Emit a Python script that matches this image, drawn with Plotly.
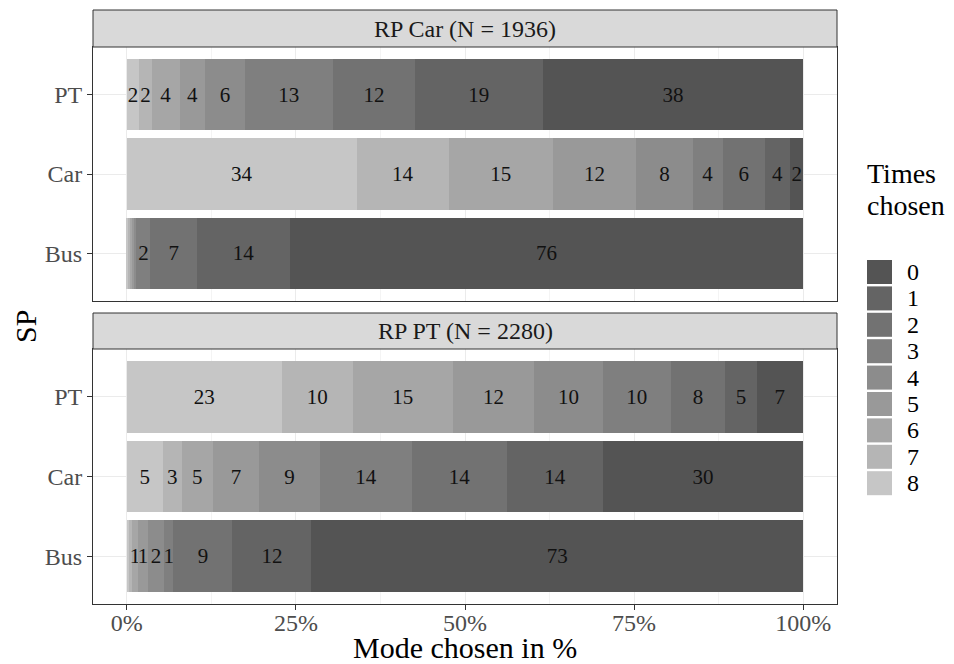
import plotly.graph_objects as go

# ---------------- data ----------------
panels = ["RP Car (N = 1936)", "RP PT (N = 2280)"]
sp_modes = ["Bus", "Car", "PT"]
times_chosen = ["0", "1", "2", "3", "4", "5", "6", "7", "8"]

# percentages per "times chosen" (0..8) for each SP mode
rp_car_pt = [38.5, 18.9, 12.1, 13.1, 5.8, 3.8, 4.1, 1.9, 1.8]
rp_car_car = [1.9, 3.8, 6.2, 4.4, 8.4, 12.3, 15.4, 13.6, 34.0]
rp_car_bus = [75.9, 13.7, 6.9, 2.1, 0.4, 0.3, 0.3, 0.2, 0.2]

rp_pt_pt = [6.9, 4.6, 8.1, 10.0, 10.2, 12.0, 14.8, 10.5, 22.9]
rp_pt_car = [29.6, 14.2, 14.0, 13.7, 8.9, 6.9, 4.6, 2.8, 5.3]
rp_pt_bus = [72.7, 11.7, 8.7, 1.4, 2.4, 1.4, 1.0, 0.4, 0.3]

x_ticks = [0, 25, 50, 75, 100]
x_tick_labels = ["0%", "25%", "50%", "75%", "100%"]

colors = ["#545454", "#646464", "#727272", "#7f7f7f", "#8c8c8c",
          "#999999", "#a6a6a6", "#b5b5b5", "#c6c6c6"]

panel_data = [
    {"Bus": rp_car_bus, "Car": rp_car_car, "PT": rp_car_pt},
    {"Bus": rp_pt_bus, "Car": rp_pt_car, "PT": rp_pt_pt},
]

FONT = "Liberation Serif, Times New Roman, serif"
SMALL = 24   # tick / strip / legend text
BIG = 30     # axis titles
LEGT = 28    # legend title
BARTXT = 21

fig = go.Figure()

for p, pdata in enumerate(panel_data):
    xa = "x" if p == 0 else "x2"
    ya = "y" if p == 0 else "y2"
    # stack from 8 (left, light) to 0 (right, dark)
    for k in reversed(range(len(times_chosen))):
        vals = [pdata[m][k] for m in sp_modes]
        txt = [str(int(round(v))) if round(v) >= 1 else "" for v in vals]
        fig.add_trace(go.Bar(
            x=vals, y=sp_modes, orientation="h",
            xaxis=xa, yaxis=ya, name=times_chosen[k],
            marker=dict(color=colors[k], line=dict(width=0)),
            text=txt, textposition="inside", insidetextanchor="middle",
            textangle=0, textfont=dict(family=FONT, size=BARTXT, color="#111111"),
            showlegend=False, hoverinfo="skip",
        ))

# layout geometry (reference pixels converted to paper fractions;
# the page body adds an 8px offset, so the figure is shifted back by it)
OFF = 8
W, H = 954 - OFF, 664 - OFF
ml, mr, mt, mb = 93 - OFF, 117, 10 - OFF, 60
ph = H - mt - mb
pw = W - ml - mr


def py(y):
    return (H - mb - (y - OFF)) / ph


def px(x):
    return (x - OFF - ml) / pw


top_dom = [py(301), py(47)]
bot_dom = [py(604), py(349)]

axis_common = dict(
    range=[-5, 105], showline=True, mirror=True, linecolor="#333333", linewidth=1,
    showgrid=True, gridcolor="#ebebeb", gridwidth=1.1, zeroline=False,
    tickmode="array", tickvals=x_ticks, ticktext=x_tick_labels,
    minor=dict(dtick=12.5, tick0=0, showgrid=True, gridcolor="#f4f4f4", gridwidth=0.6),
)
yaxis_common = dict(
    range=[-0.6, 2.6], type="category", categoryorder="array", categoryarray=sp_modes,
    showline=True, mirror=True, linecolor="#333333", linewidth=1,
    showgrid=True, gridcolor="#ebebeb", gridwidth=1.1, zeroline=False,
    ticks="outside", ticklen=5, tickcolor="#333333",
    tickfont=dict(family=FONT, size=SMALL, color="#4d4d4d"),
)

fig.update_layout(
    width=W, height=H,
    margin=dict(l=ml, r=mr, t=mt, b=mb, autoexpand=False),
    plot_bgcolor="white", paper_bgcolor="white",
    barmode="stack", bargap=0.1,
    uniformtext=dict(minsize=BARTXT, mode="show"),
    font=dict(family=FONT, color="#000000"),
    showlegend=False,
    xaxis=dict(axis_common, domain=[0, 1], anchor="y", showticklabels=False, ticks=""),
    yaxis=dict(yaxis_common, domain=top_dom, anchor="x"),
    xaxis2=dict(axis_common, domain=[0, 1], anchor="y2", ticks="outside", ticklen=5,
                tickcolor="#333333", ticklabelstandoff=-8,
                tickfont=dict(family=FONT, size=SMALL, color="#4d4d4d")),
    yaxis2=dict(yaxis_common, domain=bot_dom, anchor="x2"),
)

# axis titles
fig.add_annotation(xref="paper", yref="paper", x=0.5, y=py(648),
                   xanchor="center", yanchor="middle", text="Mode chosen in %",
                   showarrow=False, font=dict(family=FONT, size=BIG, color="#000000"))
fig.add_annotation(xref="paper", yref="paper", x=px(25), y=py(327),
                   xanchor="center", yanchor="middle",
                   text="SP", textangle=-90, showarrow=False,
                   font=dict(family=FONT, size=BIG, color="#000000"))

# legend (title, keys, labels)
fig.add_annotation(xref="paper", yref="paper", x=px(865), y=py(173),
                   xanchor="left", yanchor="middle", text="Times", showarrow=False,
                   font=dict(family=FONT, size=LEGT, color="#000000"))
fig.add_annotation(xref="paper", yref="paper", x=px(865), y=py(205),
                   xanchor="left", yanchor="middle", text="chosen", showarrow=False,
                   font=dict(family=FONT, size=LEGT, color="#000000"))
key_x0, key_w, key_pitch, key_y0 = 867, 25, 26.4, 272
for k, lab in enumerate(times_chosen):
    yc = key_y0 + k * key_pitch
    fig.add_shape(type="rect", xref="paper", yref="paper",
                  x0=px(key_x0), x1=px(key_x0 + key_w),
                  y0=py(yc + key_w / 2 - 0.5), y1=py(yc - key_w / 2 + 0.5),
                  fillcolor=colors[k], line=dict(width=0))
    fig.add_annotation(xref="paper", yref="paper", x=px(905), y=py(yc),
                       xanchor="left", yanchor="middle", text=lab, showarrow=False,
                       font=dict(family=FONT, size=SMALL, color="#000000"))

# facet strips
strips = [(py(47), py(10)), (py(349), py(313))]
for (y0, y1), label in zip(strips, panels):
    fig.add_shape(type="rect", xref="paper", yref="paper", x0=0, x1=1, y0=y0, y1=y1,
                  fillcolor="#d9d9d9", line=dict(color="#333333", width=1), layer="above")
    fig.add_annotation(xref="paper", yref="paper", x=0.5, y=(y0 + y1) / 2,
                       xanchor="center", yanchor="middle",
                       text=label, showarrow=False,
                       font=dict(family=FONT, size=SMALL, color="#1a1a1a"))

fig.write_html("out.html")
